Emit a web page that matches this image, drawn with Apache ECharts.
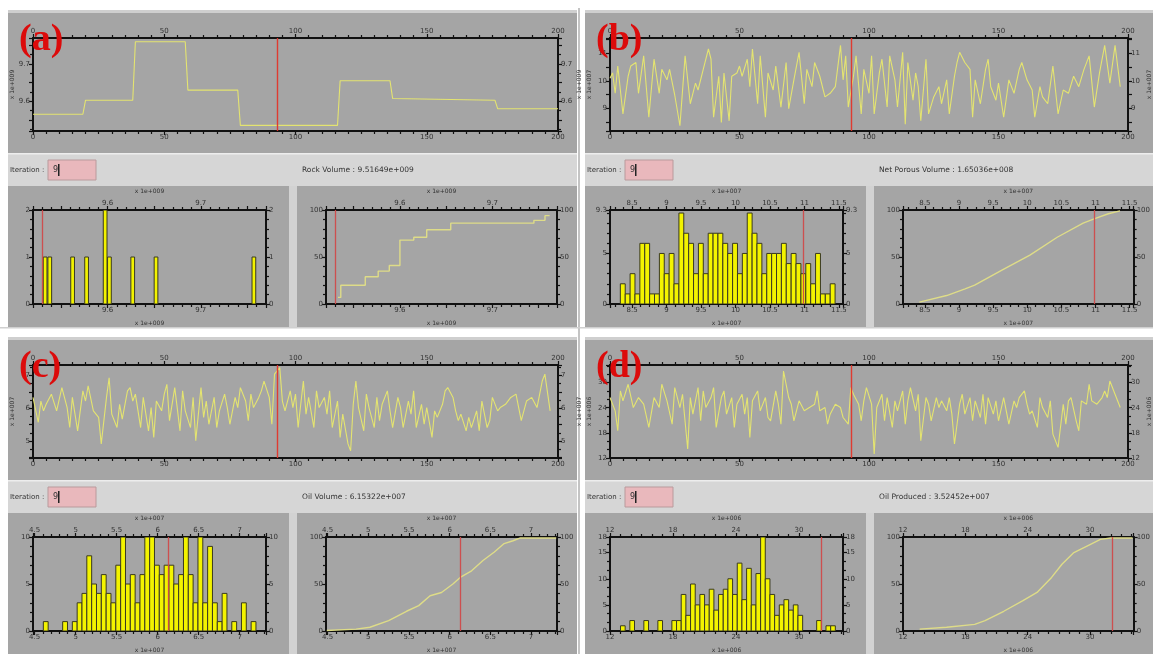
<!DOCTYPE html>
<html><head><meta charset="utf-8">
<script src="https://cdn.jsdelivr.net/npm/echarts@6/dist/echarts.min.js"></script>
<style>html,body{margin:0;padding:0;background:#fff}#c{width:1153px;height:654px}</style>
</head><body><div id="c"></div><script>
// ---------------- data ----------------
const ITER_MIN = 0, ITER_MAX = 200, ITER_STEP = 50;
const currentIteration = 93;
const iterationText = '9';
const panelTags = ['(a)', '(b)', '(c)', '(d)'];
const readoutNames = ['Rock Volume', 'Net Porous Volume', 'Oil Volume', 'Oil Produced'];
const readoutValues = ['9.51649e+009', '1.65036e+008', '6.15322e+007', '3.52452e+007'];
const unitNames = ['x 1e+009', 'x 1e+007', 'x 1e+007', 'x 1e+006'];

// (a) rock volume
const rockTrace = [[0,9.565],[19,9.565],[20,9.6025],[38,9.6025],[39,9.76],[58,9.76],[59,9.63],[78,9.63],[79,9.535],[116,9.535],[117,9.655],[136,9.655],[137,9.6075],[176,9.6025],[177,9.58],[200,9.58]];
const rockRange = [9.52, 9.77];
const rockHistCenters = [9.533, 9.538, 9.5625, 9.5775, 9.5974, 9.602, 9.627, 9.652, 9.757];
const rockHistCounts = [1, 1, 1, 1, 2, 1, 1, 1, 1];
const rockHistBarWidth = 0.004;
const rockCountMax = 2;
const rockCdf = [[9.533,7],[9.536,20],[9.5625,29],[9.5765,35],[9.5885,41],[9.600,68],[9.615,71],[9.629,79],[9.655,86],[9.745,89],[9.757,94],[9.762,94]];
const rockCurrent = 9.532;

// (b) net porous volume
const porousTrace = [[0,10.1],[1,10.29],[2,9.55],[3,10.54],[5,8.80],[7,10.17],[8,10.54],[10,10.67],[11,9.55],[13,10.91],[15,8.68],[17,10.79],[19,9.55],[20,10.42],[22,10.04],[23,10.42],[25,9.48],[27,8.37],[29,10.91],[31,9.17],[33,9.92],[34,9.67],[36,10.42],[38,11.16],[39,10.79],[40,8.68],[42,10.17],[43,8.49],[44,10.29],[46,8.55],[47,10.17],[49,10.29],[50,10.54],[51,10.17],[53,10.79],[54,9.79],[55,11.16],[57,9.17],[58,10.91],[60,8.68],[61,10.29],[63,9.67],[64,10.54],[66,9.05],[68,10.67],[69,8.99],[71,10.04],[73,11.04],[75,9.17],[76,10.42],[78,9.79],[79,10.67],[81,10.17],[83,9.42],[85,9.55],[87,9.79],[89,11.29],[90,10.04],[91,10.91],[92,9.05],[94,10.17],[95,10.91],[97,8.80],[98,10.42],[100,9.55],[101,10.91],[102,8.80],[104,10.29],[105,10.79],[107,9.05],[108,10.91],[110,10.04],[111,9.05],[113,11.04],[114,8.43],[115,10.67],[117,9.30],[118,10.29],[119,9.79],[120,8.55],[122,10.79],[123,8.80],[125,9.42],[127,9.79],[128,9.17],[130,10.04],[131,8.80],[133,10.17],[134,10.67],[135,11.04],[137,10.67],[139,10.42],[140,8.68],[141,10.04],[143,9.17],[145,10.42],[146,10.79],[147,9.79],[149,9.30],[150,9.92],[152,8.68],[154,10.04],[156,9.55],[158,10.42],[159,10.67],[161,10.04],[163,9.67],[164,8.68],[166,9.79],[167,9.42],[169,9.17],[171,10.54],[173,8.80],[175,9.67],[177,9.55],[179,10.17],[181,9.79],[183,10.42],[185,10.91],[187,9.05],[189,10.29],[191,11.29],[193,9.92],[195,11.29],[197,9.79]];
const porousRange = [8.18, 11.56];
const porousBinStart = 8.33, porousBinWidth = 0.0708;
const porousCounts = [2,1,3,1,6,6,1,1,5,3,5,2,9,7,6,3,6,3,7,7,7,6,5,6,3,5,9,7,6,3,5,5,5,6,4,5,4,3,4,2,5,1,1,2];
const porousCountMax = 9.3;
const porousCdf = [[8.42,2],[8.82,9],[9.09,16],[9.23,20],[9.63,36],[10.04,52],[10.44,71],[10.82,86],[11.0,91],[11.19,96],[11.36,99]];
const porousCurrent = 10.98;

// (c) oil volume
const oilTrace = [[0,6.33],[2,5.57],[3,6.22],[4,5.92],[5,6.12],[7,6.43],[9,5.92],[11,6.63],[13,6.02],[14,5.41],[15,6.33],[17,5.31],[19,6.53],[20,6.22],[21,6.68],[23,5.92],[25,5.72],[26,4.91],[28,6.33],[29,6.93],[30,5.82],[32,5.41],[33,6.12],[34,5.67],[36,6.53],[37,6.63],[38,6.22],[39,6.43],[41,5.41],[42,6.33],[44,5.31],[45,6.02],[46,5.11],[47,6.22],[49,5.92],[50,6.43],[51,6.73],[52,5.62],[54,6.63],[56,5.31],[57,6.53],[58,5.92],[60,5.41],[61,6.33],[62,5.01],[64,6.63],[65,5.72],[66,6.22],[67,5.51],[69,6.33],[70,5.41],[71,5.92],[73,6.43],[74,6.02],[75,5.51],[77,6.33],[78,6.02],[79,6.63],[81,6.22],[82,5.62],[83,6.43],[84,6.02],[86,6.33],[87,6.53],[88,6.83],[90,6.33],[91,5.51],[92,7.04],[94,7.24],[95,6.22],[96,5.92],[98,6.53],[99,6.02],[100,6.43],[101,5.41],[103,6.83],[104,5.82],[105,6.33],[107,5.41],[108,6.53],[109,6.02],[111,6.33],[112,5.82],[113,6.53],[114,5.41],[116,6.22],[117,5.11],[118,5.82],[120,4.91],[121,4.70],[122,6.12],[123,6.83],[124,6.02],[126,5.31],[127,6.43],[128,6.02],[130,5.41],[131,6.33],[132,5.62],[133,6.12],[135,6.53],[136,5.92],[137,5.41],[139,6.33],[140,6.02],[141,5.41],[143,6.22],[144,5.82],[145,6.53],[146,5.41],[148,6.12],[149,5.51],[150,6.02],[152,5.11],[153,5.92],[154,5.72],[156,6.12],[157,6.53],[158,6.63],[160,6.33],[161,5.92],[162,5.62],[163,5.82],[165,5.31],[166,5.72],[167,5.41],[169,5.92],[170,5.31],[171,6.22],[173,5.41],[174,5.62],[175,6.33],[177,5.92],[178,6.02],[180,6.12],[182,6.33],[184,6.43],[186,5.62],[188,6.22],[190,6.33],[192,6.02],[194,6.83],[195,7.04],[197,5.92]];
const oilRange = [4.48, 7.32];
const oilBinStart = 4.606, oilBinWidth = 0.0589;
const oilCounts = [1,0,0,0,1,0,1,3,4,8,5,4,6,4,3,7,10,5,6,3,6,10,10,7,6,7,7,5,6,10,6,3,10,3,9,3,1,4,0,1,0,3,0,1];
const oilCountMax = 10;
const oilCdf = [[4.49,0.5],[4.85,2],[5.02,4],[5.25,11],[5.47,21],[5.62,27],[5.76,37.5],[5.9,41],[6.04,50],[6.13,57],[6.27,64],[6.41,75],[6.55,84],[6.67,93],[6.78,96],[6.87,99],[7.04,99],[7.31,99]];
const oilCurrent = 6.13;

// (d) oil produced
const producedTrace = [[0,26.43],[2,23.26],[3,18.50],[4,28.01],[5,25.64],[7,29.60],[9,24.05],[11,26.43],[13,24.84],[15,19.29],[17,26.43],[19,24.05],[20,29.60],[22,25.64],[24,20.09],[25,28.81],[27,24.05],[28,27.22],[30,14.14],[31,26.43],[32,22.46],[34,28.81],[35,20.88],[36,28.01],[37,24.05],[39,26.43],[40,28.81],[41,19.29],[43,26.43],[44,28.01],[45,22.46],[47,26.43],[48,19.29],[49,24.84],[51,27.22],[52,22.46],[53,26.43],[54,16.91],[55,25.64],[57,28.01],[58,23.26],[60,26.43],[61,21.67],[62,20.88],[64,28.01],[65,24.84],[66,20.09],[67,32.77],[69,26.43],[70,24.84],[71,20.88],[73,25.64],[75,23.26],[77,24.05],[79,24.84],[80,28.01],[81,23.26],[83,24.05],[84,20.09],[85,22.46],[87,24.84],[89,24.05],[90,21.67],[92,20.09],[93,28.81],[94,27.22],[96,24.84],[97,20.88],[98,25.64],[99,28.81],[101,24.84],[102,12.95],[103,24.05],[105,27.22],[106,20.88],[107,26.43],[109,19.29],[110,25.64],[111,23.26],[113,28.01],[114,20.09],[115,25.64],[116,28.81],[118,23.26],[119,27.22],[120,16.12],[122,26.43],[123,24.84],[124,20.88],[126,26.43],[127,24.05],[128,25.64],[130,23.26],[131,26.43],[132,22.46],[133,15.33],[135,24.84],[136,27.22],[137,22.46],[139,26.43],[140,20.88],[141,25.64],[143,21.67],[144,27.22],[145,20.09],[146,26.43],[148,22.46],[149,25.64],[150,20.88],[152,26.43],[153,23.26],[154,20.09],[156,25.64],[157,24.05],[158,26.43],[160,28.01],[161,24.84],[162,22.46],[163,23.26],[165,19.29],[166,26.43],[167,24.05],[169,21.67],[170,25.64],[171,17.71],[173,14.53],[175,24.84],[176,20.09],[177,25.64],[178,26.43],[180,20.88],[181,18.50],[182,25.64],[184,24.84],[185,29.60],[186,25.64],[188,24.84],[190,26.43],[191,28.01],[192,26.43],[193,30.39],[195,27.22],[197,24.05]];
const producedRange = [12, 34.2];
const producedBinStart = 13.0, producedBinWidth = 0.445;
const producedCounts = [1,0,2,0,0,2,0,0,2,0,0,2,2,7,3,9,5,7,5,8,4,7,8,10,7,13,6,12,5,11,18,10,7,3,5,6,4,5,3,0,0,0,2,0,1,1];
const producedCountMax = 18;
const producedCdf = [[13.6,2],[16.2,4],[18.9,7],[19.9,11],[21.7,21],[23.5,32],[24.9,41],[26.3,57],[27.3,71],[28.4,83],[30.0,92],[31.0,97.5],[32.0,99],[34.1,99]];
const producedCurrent = 32.1;

// ---------------- styles ----------------
const PANEL = '#a5a5a5', BAR = '#d6d6d6', AXIS = '#111111', LABEL = '#333333';
const TRACE = '#e4e470', CDFC = '#dedc88', RED = '#e2352a', HRED = '#cf4a4a';

const stepFmt = step => v => {
  const k = v / step;
  return Math.abs(k - Math.round(k)) < 1e-6 ? String(Math.round(v * 100) / 100) : '';
};

function binsFrom(start, width, counts) {
  return counts.map((n, i) => [start + i * width, start + (i + 1) * width, n]);
}
function barsFrom(centers, width, counts) {
  return centers.map((c, i) => [c - width / 2, c + width / 2, counts[i]]);
}

const quads = [
  {ox: 0, oy: 0, trace: rockTrace, range: rockRange, split: 5, interval: undefined, vMinorX: 5, vMinorY: 2, lblStep: 0.1,
   hist: barsFrom(rockHistCenters, rockHistBarWidth, rockHistCounts), hMax: rockCountMax, hInt: 1, hMinor: 5,
   cdf: rockCdf, cdfStep: 'end', cur: rockCurrent},
  {ox: 577, oy: 0, trace: porousTrace, range: porousRange, split: 6, interval: undefined, vMinorX: 4, vMinorY: 1, lblStep: 1, hLblStep: 0.5,
   hist: binsFrom(porousBinStart, porousBinWidth, porousCounts), hMax: porousCountMax, hInt: 5, hMinor: 5,
   cdf: porousCdf, cdfStep: false, cur: porousCurrent},
  {ox: 0, oy: 327, trace: oilTrace, range: oilRange, split: 6, interval: undefined, vMinorX: 5, vMinorY: 2, lblStep: 1, hLblStep: 0.5,
   hist: binsFrom(oilBinStart, oilBinWidth, oilCounts), hMax: oilCountMax, hInt: 5, hMinor: 5,
   cdf: oilCdf, cdfStep: false, cur: oilCurrent},
  {ox: 577, oy: 327, trace: producedTrace, range: producedRange, split: undefined, interval: 6, vMinorX: 6, vMinorY: 3, lblStep: 6, hLblStep: 6,
   hist: binsFrom(producedBinStart, producedBinWidth, producedCounts), hMax: producedCountMax, hInt: 5, hMinor: 3,
   cdf: producedCdf, cdfStep: false, cur: producedCurrent}
];

// ---------------- builders ----------------
const grids = [], xAxes = [], yAxes = [], series = [], graphics = [];

function axisBase(c) {
  return {
    type: 'value', min: c.min, max: c.max, interval: c.interval, splitNumber: c.split,
    axisLine: {show: true, onZero: false, lineStyle: {color: AXIS, width: 2}},
    axisTick: {show: true, inside: false, length: 4, lineStyle: {color: AXIS, width: 1.2}},
    minorTick: {show: (c.minor || 1) > 1, splitNumber: c.minor || 1, length: 3, lineStyle: {color: AXIS, width: 1.2}},
    splitLine: {show: false}, minorSplitLine: {show: false},
    axisLabel: {show: true, fontSize: 7, color: LABEL, margin: 3, fontFamily: 'DejaVu Sans', formatter: c.fmt, hideOverlap: false},
    name: c.name || '', nameLocation: 'middle', nameGap: c.nameGap || 14,
    nameTextStyle: {fontSize: 6, color: LABEL, fontFamily: 'DejaVu Sans'}
  };
}
function addGrid(rect, xc, yc) {
  const g = grids.length;
  grids.push({left: rect[0], top: rect[1], width: rect[2], height: rect[3], show: false, containLabel: false});
  xAxes.push(Object.assign(axisBase(xc), {gridIndex: g, position: 'bottom'}));
  xAxes.push(Object.assign(axisBase(xc), {gridIndex: g, position: 'top'}));
  yAxes.push(Object.assign(axisBase(yc), {gridIndex: g, position: 'left'}));
  yAxes.push(Object.assign(axisBase(yc), {gridIndex: g, position: 'right'}));
  return g;
}
function vline(value, color, width) {
  return {silent: true, symbol: ['none', 'none'], label: {show: false}, animation: false,
    emphasis: {disabled: true}, lineStyle: {color: color, width: width, type: 'solid', opacity: 0.95},
    data: [{xAxis: value}]};
}
function histRender(params, api) {
  const n = api.value(2);
  if (!n) return null;
  const a = api.coord([api.value(0), 0]);
  const b = api.coord([api.value(1), n]);
  return {type: 'rect', shape: {x: a[0], y: b[1], width: b[0] - a[0], height: a[1] - b[1]},
    style: {fill: '#f3f300', stroke: '#3a3a20', lineWidth: 1}};
}
function rect(x, y, w, h, fill, z, stroke) {
  return {type: 'rect', z: z, silent: true, shape: {x: x, y: y, width: w, height: h},
    style: {fill: fill, stroke: stroke || null, lineWidth: stroke ? 1 : 0}};
}
function text(x, y, s, font, fill, z, align, vAlign) {
  return {type: 'text', z: z, silent: true, x: x, y: y,
    style: {text: s, font: font, fill: fill, align: align || 'left', verticalAlign: vAlign || 'middle'}};
}

quads.forEach((q, i) => {
  const ox = q.ox, oy = q.oy;
  const vFmt = stepFmt(q.lblStep);
  const hFmt = stepFmt(q.hLblStep || q.lblStep);
  // trace
  const gt = addGrid([ox + 33, oy + 38, 525, 93],
    {min: ITER_MIN, max: ITER_MAX, interval: ITER_STEP, minor: 10},
    {min: q.range[0], max: q.range[1], interval: q.interval, split: q.split, minor: q.vMinorY, fmt: vFmt, name: unitNames[i], nameGap: 18});
  series.push({type: 'line', xAxisIndex: 2 * gt, yAxisIndex: 2 * gt, data: q.trace, symbol: 'none', showSymbol: false,
    lineStyle: {color: TRACE, width: 1.1}, animation: false, silent: true, z: 3,
    markLine: vline(currentIteration, RED, 1.4)});
  // histogram
  const gh = addGrid([ox + 33, oy + 210, 233, 94],
    {min: q.range[0], max: q.range[1], interval: q.interval, split: q.split, minor: q.vMinorX, fmt: hFmt, name: unitNames[i], nameGap: 16},
    {min: 0, max: q.hMax, interval: q.hInt, minor: q.hMinor});
  series.push({type: 'custom', xAxisIndex: 2 * gh, yAxisIndex: 2 * gh, data: q.hist, renderItem: histRender,
    encode: {x: [0, 1], y: 2}, animation: false, silent: true, clip: true, z: 3,
    markLine: vline(q.cur, HRED, 1.3)});
  // cdf
  const gc = addGrid([ox + 326, oy + 210, 231, 94],
    {min: q.range[0], max: q.range[1], interval: q.interval, split: q.split, minor: q.vMinorX, fmt: hFmt, name: unitNames[i], nameGap: 16},
    {min: 0, max: 100, interval: 50, minor: 5});
  series.push({type: 'line', xAxisIndex: 2 * gc, yAxisIndex: 2 * gc, data: q.cdf, step: q.cdfStep, symbol: 'none', showSymbol: false,
    lineStyle: {color: CDFC, width: 1.4}, animation: false, silent: true, z: 3,
    markLine: vline(q.cur, HRED, 1.3)});

  // panels
  graphics.push(rect(ox + 8, oy + 10, 569, 3, '#cfcfcf', -10));
  graphics.push(rect(ox + 8, oy + 13, 569, 140, PANEL, -10));
  graphics.push(rect(ox + 8, oy + 153, 569, 33, BAR, -10));
  graphics.push(rect(ox + 8, oy + 153, 569, 1.5, '#ededed', -9));
  graphics.push(rect(ox + 8, oy + 186, 281, 142, PANEL, -10));
  graphics.push(rect(ox + 289, oy + 186, 8, 142, '#d2d2d2', -10));
  graphics.push(rect(ox + 297, oy + 186, 280, 142, PANEL, -10));
  // iteration bar
  graphics.push(text(ox + 10, oy + 170, 'Iteration :', '7px "DejaVu Sans"', '#333', 20));
  graphics.push(rect(ox + 48, oy + 160, 48, 20, '#e9b8bc', 15, '#b99a9c'));
  graphics.push(text(ox + 53, oy + 170, iterationText, '8px "DejaVu Sans"', '#333', 20));
  graphics.push(rect(ox + 58, oy + 164, 1.5, 12, '#222', 20));
  graphics.push(text(ox + 302, oy + 170, readoutNames[i] + ' : ' + readoutValues[i], '7.5px "DejaVu Sans"', '#333', 20));
  // tag
  graphics.push(text(ox + 19, oy + 40, panelTags[i], 'bold 38px "Liberation Serif"', '#dc0b0b', 50, 'left', 'middle'));
});
graphics.push(rect(578, 8, 2, 646, '#c4c4c4', -8));
graphics.push(rect(0, 327, 1153, 1.5, '#d0d0d0', -8));

const chart = echarts.init(document.getElementById('c'), null, {renderer: 'canvas'});
chart.setOption({
  backgroundColor: '#ffffff',
  animation: false,
  grid: grids, xAxis: xAxes, yAxis: yAxes, series: series,
  graphic: {elements: graphics}
});
</script></body></html>
